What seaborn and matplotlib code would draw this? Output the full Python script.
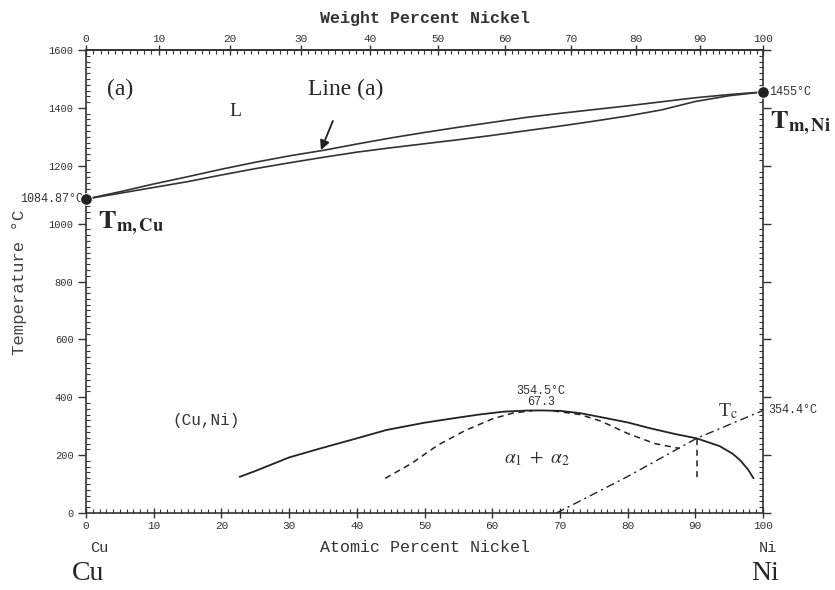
import numpy as np
import pandas as pd
import matplotlib.pyplot as plt
import seaborn as sns
from matplotlib.ticker import MultipleLocator, FixedLocator

# ---- data (atomic % Ni, deg C) ----
liq_x = [0, 5, 10, 15, 20, 25, 30, 35, 40, 45, 50, 55, 60, 65, 70, 75, 80, 85, 90, 95, 100]
liq_t = [1084.87, 1110, 1137, 1162, 1188, 1212, 1234, 1253, 1275, 1296, 1315, 1333,
         1350, 1367, 1381, 1394, 1407, 1421, 1435, 1446, 1455]
sol_x = [0, 5, 10, 15, 20, 25, 30, 35, 40, 45, 50, 55, 60, 65, 70, 75, 80, 85, 90, 95, 100]
sol_t = [1084.87, 1105, 1125, 1145, 1168, 1190, 1210, 1229, 1247, 1262, 1276, 1290,
         1305, 1321, 1337, 1354, 1372, 1393, 1422, 1442, 1455]

gap_x = [22.7, 25, 30, 34.6, 40, 44.4, 50, 54.2, 58, 61.6, 65, 67.3, 70, 73, 75.9,
         80, 83.3, 87, 90.2, 93.6, 95.5, 96.6, 97.8, 98.6]
gap_t = [125, 145, 192, 223, 258, 287, 312, 327, 340, 350, 354, 354.5, 353, 345, 332,
         313, 293, 273, 258, 231, 205, 183, 150, 120]

spin_l_x = [44.2, 48, 52, 56, 60, 63, 66]
spin_l_t = [120, 170, 235, 285, 325, 345, 354]
spin_r_x = [69, 73, 76, 80, 84, 87.7]
spin_r_t = [353, 340, 318, 275, 240, 223]
vert_x = [90.2, 90.2]
vert_t = [255, 120]

curie_x = [69.5, 80, 90.2, 100]
curie_t = [0, 126, 258, 354.4]

melt_x = [0, 100]
melt_t = [1084.87, 1455]

wt_ticks = [0, 10, 20, 30, 40, 50, 60, 70, 80, 90, 100]
at_ticks = [0, 10, 20, 30, 40, 50, 60, 70, 80, 90, 100]
t_ticks = [0, 200, 400, 600, 800, 1000, 1200, 1400, 1600]

M_CU, M_NI = 63.546, 58.693


def at2wt(a):
    a = np.clip(np.asarray(a, dtype=float), 0, 100)
    return 100 * a * M_NI / (a * M_NI + (100 - a) * M_CU)


def wt2at(w):
    w = np.clip(np.asarray(w, dtype=float), 0, 100)
    return 100 * (w / M_NI) / (w / M_NI + (100 - w) / M_CU)


sns.set_style("ticks")
plt.rcParams["font.family"] = ["Liberation Mono", "DejaVu Sans"]
plt.rcParams["mathtext.fontset"] = "stix"

W, H = 835, 590
fig = plt.figure(figsize=(W / 100, H / 100), dpi=100)
ax = fig.add_axes([86 / W, 1 - 513 / H, (763 - 86) / W, (513 - 50) / H])

line_kw = dict(ax=ax, estimator=None, sort=False, legend=False)
sns.lineplot(x=liq_x, y=liq_t, color="#333333", lw=1.2, **line_kw)
sns.lineplot(x=sol_x, y=sol_t, color="#333333", lw=1.2, **line_kw)
sns.lineplot(x=gap_x, y=gap_t, color="#222222", lw=1.3, **line_kw)
for xs, ts in [(spin_l_x, spin_l_t), (spin_r_x, spin_r_t), (vert_x, vert_t)]:
    l = sns.lineplot(x=xs, y=ts, color="#222222", lw=1.1, **line_kw).lines[-1]
    l.set_linestyle((0, (4, 3)))
l = sns.lineplot(x=curie_x, y=curie_t, color="#222222", lw=1.0, **line_kw).lines[-1]
l.set_linestyle((0, (6, 3, 1.5, 3)))
sns.scatterplot(x=melt_x, y=melt_t, ax=ax, color="#222222", s=70, zorder=5,
                clip_on=False, legend=False)

ax.set_xlim(0, 100)
ax.set_ylim(0, 1600)
for s in ax.spines.values():
    s.set_linewidth(1.2)
    s.set_color("#333333")

ax.xaxis.set_major_locator(FixedLocator(at_ticks))
ax.xaxis.set_minor_locator(MultipleLocator(1))
ax.yaxis.set_major_locator(FixedLocator(t_ticks))
ax.yaxis.set_minor_locator(MultipleLocator(20))
ax.tick_params(axis="x", which="major", direction="inout", length=7, width=1,
               labelsize=8, pad=2, colors="#333333")
ax.tick_params(axis="x", which="minor", direction="in", length=3, width=0.8,
               colors="#333333")
ax.tick_params(axis="y", which="major", direction="out", length=6, width=1,
               labelsize=7.5, pad=3, colors="#333333", right=True)
ax.tick_params(axis="y", which="minor", direction="in", length=3, width=0.8,
               colors="#333333", right=True)
ax.set_xlabel("")
ax.set_ylabel("")

top = ax.secondary_xaxis("top", functions=(at2wt, wt2at))
top.xaxis.set_major_locator(FixedLocator(wt_ticks))
top.xaxis.set_minor_locator(FixedLocator(np.arange(0, 101, 1)))
top.tick_params(axis="x", which="major", direction="inout", length=7, width=1,
                labelsize=8, pad=1, colors="#333333")
top.tick_params(axis="x", which="minor", direction="in", length=3, width=0.8,
                colors="#333333")
top.spines["top"].set_linewidth(1.2)
top.spines["top"].set_color("#333333")

serif = ["Liberation Serif", "DejaVu Serif"]
ax.text(3.1, 1462, "(a)", fontsize=17, family=serif, va="center", ha="left")
ax.text(22, 1386, "L", fontsize=14, family=serif, va="center", ha="center")
ax.annotate("Line (a)", xy=(34.7, 1254), xytext=(38.4, 1465), fontsize=17,
            family=serif, ha="center", va="center",
            arrowprops=dict(arrowstyle="-|>", color="#222222", lw=1.3,
                            shrinkA=14, shrinkB=0, mutation_scale=14))
ax.text(1.8, 985, r"$\mathbf{T}_{\mathbf{m,Cu}}$", fontsize=19, va="baseline",
        ha="left")
ax.text(101.0, 1330, r"$\mathbf{T}_{\mathbf{m,Ni}}$", fontsize=19, va="baseline",
        ha="left", clip_on=False)
ax.text(-0.4, 1084.87, "1084.87°C", fontsize=8.5, va="center", ha="right",
        color="#333333", clip_on=False)
ax.text(100.9, 1455, "1455°C", fontsize=8.5, va="center", ha="left",
        color="#333333", clip_on=False)
ax.text(17.7, 321, "(Cu,Ni)", fontsize=11.5, va="center", ha="center",
        color="#333333")
ax.text(67.2, 420, "354.5°C", fontsize=8.5, va="center", ha="center",
        color="#333333")
ax.text(67.2, 382, "67.3", fontsize=8.5, va="center", ha="center",
        color="#333333")
ax.text(66.6, 189, r"$\alpha_1\ +\ \alpha_2$", fontsize=14, va="center",
        ha="center", color="#333333")
ax.text(94.8, 352, r"T$_\mathrm{c}$", fontsize=14, family=serif, va="center",
        ha="center", color="#333333")
ax.text(100.8, 356, "354.4°C", fontsize=8.5, va="center", ha="left",
        color="#333333", clip_on=False)

fig.text(20 / W, 1 - 282 / H, "Temperature °C", fontsize=12.5, rotation=90,
         ha="center", va="center", color="#444444")
fig.text(425 / W, 1 - 18 / H, "Weight Percent Nickel", fontsize=12,
         fontweight="bold", ha="center", va="center", color="#333333")
fig.text(425 / W, 1 - 548 / H, "Atomic Percent Nickel", fontsize=12,
         ha="center", va="center", color="#333333")
fig.text(99 / W, 1 - 548 / H, "Cu", fontsize=11, ha="center", va="center",
         color="#333333")
fig.text(768 / W, 1 - 548 / H, "Ni", fontsize=11, ha="center", va="center",
         color="#333333")
fig.text(72 / W, 1 - 586 / H, "Cu", fontsize=20, family=serif, ha="left",
         va="bottom")
fig.text(779 / W, 1 - 586 / H, "Ni", fontsize=20, family=serif, ha="right",
         va="bottom")

fig.savefig("out.png", dpi=100, facecolor="white")
